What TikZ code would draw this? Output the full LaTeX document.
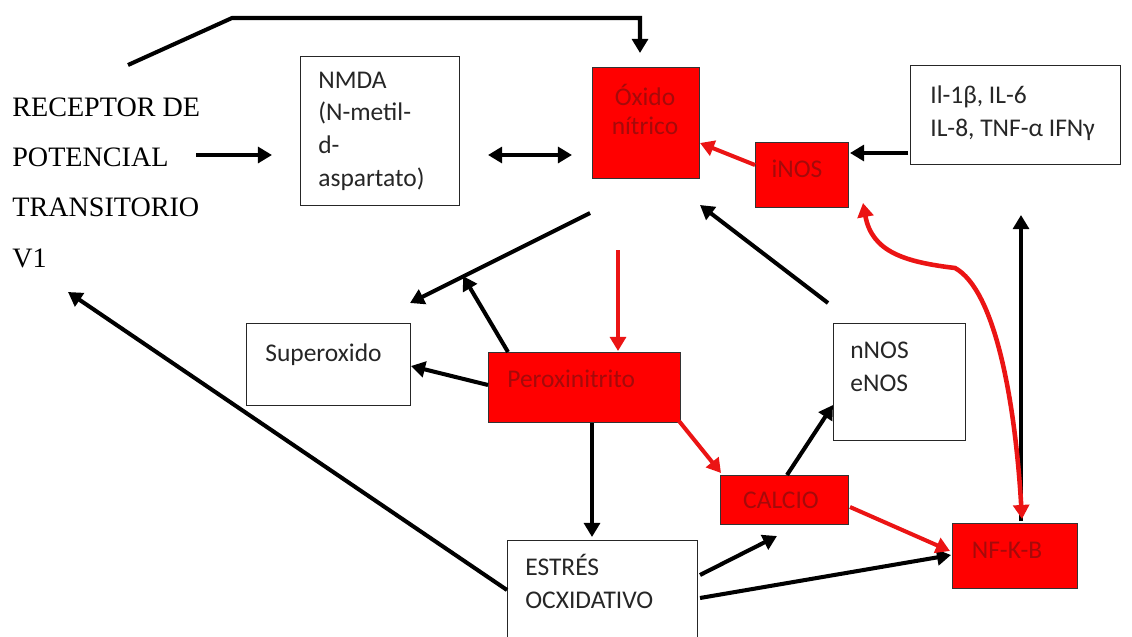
\documentclass[tikz,border=0pt]{standalone}
\usepackage{fontspec}
\setmainfont{Carlito}
\newfontfamily\timesf{Liberation Serif}
\usetikzlibrary{arrows.meta,calc}
\definecolor{boxred}{RGB}{255,0,0}
\definecolor{txtred}{RGB}{165,10,10}
\definecolor{linered}{RGB}{235,20,20}
\begin{document}
\begin{tikzpicture}[x=0.02cm,y=-0.02cm,
  wbox/.style={draw=black!85, line width=0.6pt, fill=white, inner sep=0, anchor=north west},
  rbox/.style={draw=black!80, line width=0.6pt, fill=boxred, inner sep=0, anchor=north west},
  btxt/.style={inner sep=0, anchor=base west, align=left, font=\fontsize{14.5}{18.5}\selectfont, text=black!85},
  rtxt/.style={inner sep=0, align=center, font=\fontsize{14.5}{16.5}\selectfont, text=txtred},
  arr/.style={line width=2.3pt, draw=black, -{Triangle[length=8pt,width=9pt]}},
  rarr/.style={line width=2.3pt, draw=linered, -{Triangle[length=8pt,width=9pt]}}
]
\clip (0,0) rectangle (1132,636);
\fill[white] (0,0) rectangle (1132,636);

% boxes
\node[wbox, minimum width=3.18cm, minimum height=2.98cm] (nmda) at (300,56) {};
\node[rbox, minimum width=2.14cm, minimum height=2.22cm] (oxido) at (592,67) {};
\node[rbox, minimum width=1.86cm, minimum height=1.30cm] (inos) at (755,142) {};
\node[wbox, minimum width=4.20cm, minimum height=1.98cm] (il) at (910,65) {};
\node[wbox, minimum width=3.28cm, minimum height=1.64cm] (sup) at (246,323) {};
\node[rbox, minimum width=3.84cm, minimum height=1.40cm] (perox) at (488,352) {};
\node[wbox, minimum width=2.64cm, minimum height=2.34cm] (nnos) at (833,323) {};
\node[rbox, minimum width=2.56cm, minimum height=0.98cm] (calcio) at (720,475) {};
\node[wbox, minimum width=3.80cm, minimum height=2.00cm] (estres) at (507,540) {};
\node[rbox, minimum width=2.50cm, minimum height=1.30cm] (nf) at (952,523) {};

% texts
\node[inner sep=0, anchor=base west, align=left, font=\timesf\fontsize{16}{28.5}\selectfont] (rec) at (12,267) {RECEPTOR DE\\POTENCIAL\\TRANSITORIO\\V1};
\node[btxt] (nmdat) at (318,186) {NMDA\\(N-metil-\\d-\\aspartato)};
\node[btxt] (ilt) at (930,136) {Il-1β, IL-6\\IL-8, TNF-α IFNγ};
\node[btxt] (supt) at (265,361) {Superoxido};
\node[btxt] (nnost) at (850,391) {nNOS\\eNOS};
\node[btxt] (estrest) at (525,608) {ESTRÉS\\OCXIDATIVO};
\node[rtxt] (oxidot) at (645,109) {Óxido\\nítrico};
\node[rtxt] (inost) at (797,169) {iNOS};
\node[rtxt, anchor=west] (peroxt) at (507,379) {Peroxinitrito};
\node[rtxt] (calciot) at (781,500) {CALCIO};
\node[rtxt] (nft) at (1007,550) {NF-K-B};

% connector end points
\coordinate (t0) at (128,65);
\coordinate (t1) at (232,18);
\coordinate (t2) at (640,18);
\coordinate (t3) at (640,53);
\coordinate (r1) at (196,155);
\coordinate (r2) at (272,155);
\coordinate (n1) at (488,155);
\coordinate (o1) at (572,155);
\coordinate (i1) at (755,165);
\coordinate (o2) at (700,143);
\coordinate (l1) at (908,153);
\coordinate (i2) at (850,153);
\coordinate (o3) at (590,213);
\coordinate (s1) at (410,303);
\coordinate (p1) at (508,352);
\coordinate (s2) at (463,276);
\coordinate (o4) at (618,250);
\coordinate (p2) at (618,351);
\coordinate (p3) at (488,385);
\coordinate (s3) at (411,366);
\coordinate (e1) at (828,303);
\coordinate (o5) at (700,205);
\coordinate (x1) at (507,590);
\coordinate (v1) at (68,292);
\coordinate (p4) at (592,423);
\coordinate (x2) at (592,537);
\coordinate (p5) at (679,421);
\coordinate (c1) at (721,473);
\coordinate (c2) at (787,475);
\coordinate (e2) at (833,405);
\coordinate (x3) at (700,575);
\coordinate (c3) at (777,536);
\coordinate (x4) at (700,598);
\coordinate (f1) at (951,555);
\coordinate (c4) at (850,507);
\coordinate (f2) at (950,551);
\coordinate (f3) at (1021,521);
\coordinate (u1) at (1021,215);
\coordinate (f4) at (1022,519);
\coordinate (i3) at (863,203);

% connectors
\draw[arr, line join=miter] (t0) -- (t1) -- (t2) -- (t3);
\draw[arr] (r1) -- (r2);
\draw[line width=2.3pt, {Triangle[length=8pt,width=9pt]}-{Triangle[length=8pt,width=9pt]}] (n1) -- (o1);
\draw[rarr] (i1) -- (o2);
\draw[arr] (l1) -- (i2);
\draw[arr] (o3) -- (s1);
\draw[arr] (p1) -- (s2);
\draw[rarr] (o4) -- (p2);
\draw[arr] (p3) -- (s3);
\draw[arr] (e1) -- (o5);
\draw[arr] (x1) -- (v1);
\draw[arr] (p4) -- (x2);
\draw[rarr] (p5) -- (c1);
\draw[arr] (c2) -- (e2);
\draw[arr] (x3) -- (c3);
\draw[arr] (x4) -- (f1);
\draw[rarr] (c4) -- (f2);
\draw[arr] (f3) -- (u1);
\draw[line width=2.6pt, draw=linered, {Triangle[length=8pt,width=9pt]}-{Triangle[length=8pt,width=9pt]}]
  (f4) .. controls (1015,400) and (995,290) .. (955,268)
       .. controls (905,262) and (872,252) .. (i3);
\end{tikzpicture}
\end{document}
